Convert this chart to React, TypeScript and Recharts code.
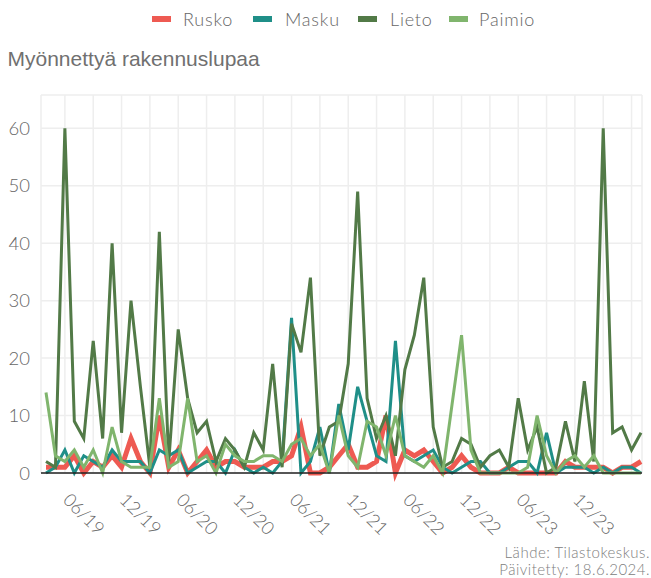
import { LineChart, Line, XAxis, YAxis, CartesianGrid } from "recharts";

// kuukaudet, 04/19 - 07/24
const months = [
  "04/19", "05/19", "06/19", "07/19", "08/19", "09/19", "10/19", "11/19", "12/19",
  "01/20", "02/20", "03/20", "04/20", "05/20", "06/20", "07/20", "08/20", "09/20", "10/20", "11/20", "12/20",
  "01/21", "02/21", "03/21", "04/21", "05/21", "06/21", "07/21", "08/21", "09/21", "10/21", "11/21", "12/21",
  "01/22", "02/22", "03/22", "04/22", "05/22", "06/22", "07/22", "08/22", "09/22", "10/22", "11/22", "12/22",
  "01/23", "02/23", "03/23", "04/23", "05/23", "06/23", "07/23", "08/23", "09/23", "10/23", "11/23", "12/23",
  "01/24", "02/24", "03/24", "04/24", "05/24", "06/24", "07/24",
];

const rusko = [
  1, 1, 1, 3, 0, 2, 1, 3, 1, 6,
  2, 0, 10, 1, 4, 0, 2, 4, 1, 2,
  2, 1, 1, 1, 2, 2, 3, 8, 0, 0,
  1, 3, 5, 1, 1, 2, 10, 0, 4, 3,
  4, 2, 0, 1, 3, 1, 0, 0, 0, 1,
  0, 0, 0, 0, 0, 2, 1, 1, 1, 1,
  0, 1, 1, 2,
];

const masku = [
  0, 1, 4, 0, 3, 2, 1, 4, 2, 2,
  2, 0, 4, 3, 4, 0, 1, 2, 2, 0,
  4, 1, 0, 1, 0, 2, 27, 0, 2, 8,
  0, 12, 4, 15, 9, 3, 2, 23, 3, 2,
  3, 4, 1, 0, 1, 2, 2, 0, 0, 1,
  2, 2, 0, 7, 0, 1, 1, 1, 0, 1,
  0, 1, 1, 0,
];

const lieto = [
  2, 1, 60, 9, 6, 23, 6, 40, 7, 30,
  15, 1, 42, 2, 25, 13, 7, 9, 2, 6,
  4, 1, 7, 4, 19, 1, 26, 21, 34, 3,
  8, 9, 19, 49, 13, 6, 10, 3, 18, 24,
  34, 8, 1, 2, 6, 5, 1, 3, 4, 1,
  13, 4, 8, 0, 1, 9, 2, 16, 2, 60,
  7, 8, 4, 7,
];

const paimio = [
  14, 3, 2, 4, 1, 4, 0, 8, 2, 1,
  1, 1, 13, 1, 2, 13, 2, 3, 0, 5,
  3, 2, 2, 3, 3, 2, 5, 6, 3, 5,
  0, 10, 3, 1, 9, 8, 3, 10, 3, 2,
  1, 3, 0, 12, 24, 4, 0, 0, 0, 0,
  0, 1, 10, 3, 0, 2, 3, 1, 3, 0,
  0, 0, 0, 0,
];

const labelMonths = ["06/19", "12/19", "06/20", "12/20", "06/21", "12/21", "06/22", "12/22", "06/23", "12/23"];
const yTicks = [0, 10, 20, 30, 40, 50, 60];

const series = [
  { key: "Rusko", color: "#ee5a52", width: 5 },
  { key: "Masku", color: "#1f8f88", width: 3 },
  { key: "Lieto", color: "#527a47", width: 3 },
  { key: "Paimio", color: "#80b56d", width: 3 },
];

const data = months.map((m, i) => ({
  i,
  month: m,
  Rusko: rusko[i],
  Masku: masku[i],
  Lieto: lieto[i],
  Paimio: paimio[i],
}));

// gridline every 3rd month, label every 6th
const gridTicks = data.filter((d) => (d.i - 2) % 3 === 0).map((d) => d.i);

const FONT = "Lato, 'Noto Sans', sans-serif";
const TEXT = "#666";

function MonthTick(props: any) {
  const { x, y, payload } = props;
  const label = months[payload.value];
  if (!labelMonths.includes(label)) return <g />;
  const tx = x - 3;
  const ty = y + 28;
  return (
    <text
      x={tx}
      y={ty}
      transform={`rotate(45 ${tx} ${ty})`}
      textAnchor="start"
      fontSize={18}
      fontWeight={300}
      fontFamily={FONT}
      fill={TEXT}
    >
      {label}
    </text>
  );
}

const legendPos = [
  { sw: 152, tx: 183 },
  { sw: 253, tx: 285 },
  { sw: 358, tx: 390 },
  { sw: 449, tx: 479 },
];

export default function App() {
  return (
    <div style={{ position: "absolute", left: 0, top: 0, width: 651, height: 578, background: "#fff" }}>
      <LineChart
        width={651}
        height={578}
        data={data}
        margin={{ top: 95, right: 9, bottom: 0, left: 0 }}
      >
        <CartesianGrid stroke="#eeeeee" strokeWidth={1.5} />
        <XAxis
          type="number"
          dataKey="i"
          domain={[-0.529, 63.106]}
          ticks={gridTicks}
          interval={0}
          tick={<MonthTick />}
          tickLine={false}
          tickSize={0}
          tickMargin={0}
          height={105}
          axisLine={{ stroke: "#222", strokeWidth: 1.5 }}
        />
        <YAxis
          type="number"
          domain={[0, 65.8]}
          ticks={yTicks}
          interval={0}
          width={41}
          axisLine={false}
          tickLine={false}
          tickSize={0}
          tickMargin={11}
          tick={{ fontSize: 18.5, fill: TEXT, fontFamily: FONT, fontWeight: 300 }}
        />
        {series.map((s) => (
          <Line
            key={s.key}
            type="linear"
            dataKey={s.key}
            stroke={s.color}
            strokeWidth={s.width}
            dot={false}
            activeDot={false}
            isAnimationActive={false}
          />
        ))}
      </LineChart>
      <svg
        width={651}
        height={578}
        style={{ position: "absolute", left: 0, top: 0, pointerEvents: "none" }}
      >
        {series.map((s, k) => (
          <g key={s.key}>
            <rect x={legendPos[k].sw} y={16} width={19} height={6} fill={s.color} />
            <text
              x={legendPos[k].tx}
              y={26}
              fontSize={18}
              fontWeight={300}
              fontFamily={FONT}
              fill="#666"
              letterSpacing={0.8}
            >
              {s.key}
            </text>
          </g>
        ))}
        <text x={7.5} y={65.7} fontSize={21} fontFamily="'Liberation Sans', Arial, sans-serif" fill="#707070">
          Myönnettyä rakennuslupaa
        </text>
        <text x={650} y={558} textAnchor="end" fontSize={15} fontWeight={300} fontFamily={FONT} fill="#808080" letterSpacing={0.5}>
          Lähde: Tilastokeskus.
        </text>
        <text x={650} y={575} textAnchor="end" fontSize={15} fontWeight={300} fontFamily={FONT} fill="#808080" letterSpacing={0.5}>
          Päivitetty: 18.6.2024.
        </text>
      </svg>
    </div>
  );
}
